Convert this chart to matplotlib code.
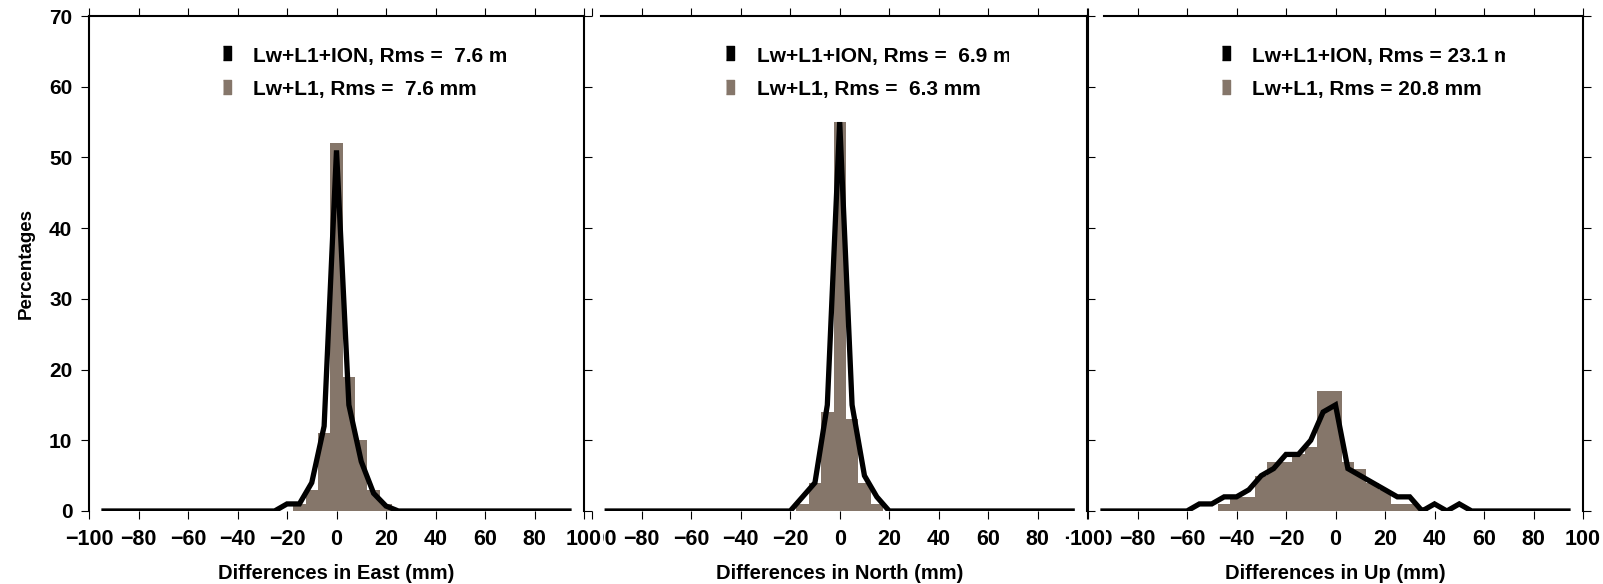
import matplotlib
matplotlib.use("Agg")
import matplotlib.pyplot as plt
from matplotlib.patches import Rectangle

plt.rcParams['font.family'] = ['Liberation Sans', 'DejaVu Sans']
plt.rcParams['font.weight'] = 'bold'
plt.rcParams['axes.unicode_minus'] = True

# bin centres (mm) used by the black polyline
bins = [-95, -90, -85, -80, -75, -70, -65, -60, -55, -50, -45, -40, -35, -30,
        -25, -20, -15, -10, -5, 0, 5, 10, 15, 20, 25, 30, 35, 40, 45, 50, 55,
        60, 65, 70, 75, 80, 85, 90, 95]

# Lw+L1+ION (black line), percentages per bin
east_ion = [0, 0, 0, 0, 0, 0, 0, 0, 0, 0, 0, 0, 0, 0,
            0, 1, 1, 4, 12, 51, 15, 7, 2.5, 0.7, 0, 0, 0, 0, 0, 0, 0,
            0, 0, 0, 0, 0, 0, 0, 0]
north_ion = [0, 0, 0, 0, 0, 0, 0, 0, 0, 0, 0, 0, 0, 0,
             0, 0, 2, 4, 15, 55, 15, 5, 2, 0, 0, 0, 0, 0, 0, 0, 0,
             0, 0, 0, 0, 0, 0, 0, 0]
up_ion = [0, 0, 0, 0, 0, 0, 0, 0, 1, 1, 2, 2, 3, 5,
          6, 8, 8, 10, 14, 15, 6, 5, 4, 3, 2, 2, 0, 1, 0, 1, 0,
          0, 0, 0, 0, 0, 0, 0, 0]

# Lw+L1 (brown bars)
east_bar_x = [-15, -10, -5, 0, 5, 10, 15, 20]
east_bar_y = [1, 3, 11, 52, 19, 10, 3, 1]
north_bar_x = [-15, -10, -5, 0, 5, 10, 15]
north_bar_y = [1, 4, 14, 55, 13, 4, 1]
up_bar_x = [-45, -40, -35, -30, -25, -20, -15, -10, -5, 0, 5, 10, 15, 20, 25, 30, 35]
up_bar_y = [1, 2, 2, 5, 7, 7, 8, 9, 17, 17, 7, 6, 4, 3, 1, 1, 0.5]

xlabels = ['Differences in East (mm)', 'Differences in North (mm)', 'Differences in Up (mm)']
rms_ion = ['Lw+L1+ION, Rms =  7.6 mm', 'Lw+L1+ION, Rms =  6.9 mm', 'Lw+L1+ION, Rms = 23.1 mm']
rms_l1 = ['Lw+L1, Rms =  7.6 mm', 'Lw+L1, Rms =  6.3 mm', 'Lw+L1, Rms = 20.8 mm']

bar_color = '#85766a'
W, H = 1603, 584
fig = plt.figure(figsize=(W / 100, H / 100), dpi=100)

lefts = [89, 592.2, 1088]
bottom, height, width = (H - 511) / H, 495 / H, 495 / W
ion_data = [east_ion, north_ion, up_ion]
bar_data = [(east_bar_x, east_bar_y), (north_bar_x, north_bar_y), (up_bar_x, up_bar_y)]
top_start = [-100, -96.6, -93.5]

xticks = list(range(-100, 101, 20))
xticklabels = ['\u2212%d' % -t if t < 0 else str(t) for t in xticks]

axes = []
for i in range(3):
    ax = fig.add_axes([lefts[i] / W, bottom, width, height], zorder=3 - i)
    ax.set_facecolor('none')
    bx, by = bar_data[i]
    ax.bar(bx, by, width=5, color=bar_color, linewidth=0, zorder=1)
    ax.plot(bins, ion_data[i], color='black', lw=3.8, solid_joinstyle='miter',
            solid_capstyle='butt', zorder=2)
    ax.set_xlim(-100, 100)
    ax.set_ylim(0, 70)
    ax.set_xticks(xticks)
    labs = ax.set_xticklabels(xticklabels, fontsize=15.5, fontweight='bold')
    if i < 2:
        labs[-1].set_bbox(dict(facecolor='white', edgecolor='none', pad=0.5))
    ax.set_yticks(range(0, 71, 10))
    ax.spines['bottom'].set_visible(False)
    for s in ['left', 'top', 'right']:
        ax.spines[s].set_linewidth(1.5)
    ax.spines['top'].set_bounds(top_start[i], 100)
    ax.tick_params(direction='out', length=6, width=0.8, top=True, right=True,
                   labeltop=False, labelright=False, pad=7)
    if i == 0:
        ax.set_yticklabels([str(v) for v in range(0, 71, 10)], fontsize=15, fontweight='bold')
        ax.tick_params(axis='y', pad=6)
        ax.set_ylabel('Percentages', fontsize=13.5, fontweight='bold', labelpad=10)
    else:
        ax.tick_params(left=False, labelleft=False)
        if i == 1:
            ax.spines['left'].set_visible(False)
    ax.set_xlabel(xlabels[i], fontsize=14.5, fontweight='bold', labelpad=10)

    # legend drawn by hand, clipped on the right like the original
    clip = Rectangle((-100, 0), 168.5, 70, transform=ax.transData, fill=False, visible=False)
    ax.add_patch(clip)
    marker = [(-0.3, -0.5), (0.3, -0.5), (0.3, 0.5), (-0.3, 0.5)]
    ax.plot([-44.2], [64.7], marker=marker, markersize=9.5, color='black', ls='none')
    ax.plot([-44.2], [60.0], marker=marker, markersize=9.5, color=bar_color, ls='none')
    t1 = ax.text(-33.6, 63.5, rms_ion[i], fontsize=15, fontweight='bold', va='baseline')
    t2 = ax.text(-33.6, 58.8, rms_l1[i], fontsize=15, fontweight='bold', va='baseline')
    for t in (t1, t2):
        t.set_clip_path(clip)
        t.set_clip_on(True)
    axes.append(ax)

fig.savefig('out.png', dpi=100, facecolor='white')
